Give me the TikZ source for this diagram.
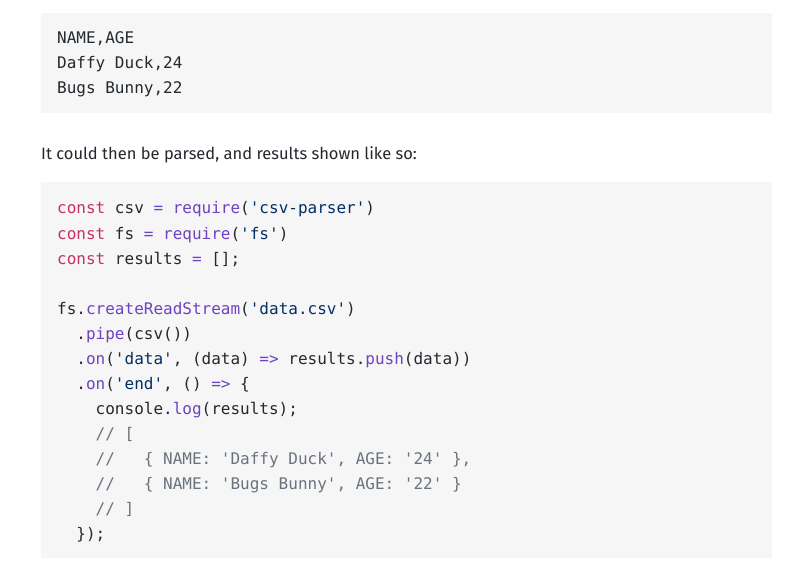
\documentclass[tikz,border=0pt]{standalone}
\usepackage{fontspec}
\setmainfont{Fira Sans}
\setmonofont{DejaVu Sans Mono}
\definecolor{boxgray}{HTML}{F6F6F7}
\definecolor{codetext}{HTML}{24292E}
\definecolor{kwred}{HTML}{C4335D}
\definecolor{fnpurple}{HTML}{6F42C1}
\definecolor{strblue}{HTML}{032F62}
\definecolor{cmgray}{HTML}{6A737D}
\newcommand{\kw}[1]{\textcolor{kwred}{#1}}
\newcommand{\fn}[1]{\textcolor{fnpurple}{#1}}
\newcommand{\str}[1]{\textcolor{strblue}{#1}}
\newcommand{\cm}[1]{\textcolor{cmgray}{#1}}
\tikzset{
  codebox/.style={fill=boxgray, draw=none},
  codeline/.style={anchor=base west, inner sep=0pt, font=\ttfamily\fontsize{16}{20}\selectfont, text=codetext},
  bodytext/.style={anchor=base west, inner sep=0pt, font=\fontsize{16.5}{20}\selectfont, text=codetext}
}
\begin{document}
\begin{tikzpicture}[x=1pt,y=-1pt]
  \useasboundingbox[fill=white] (0,0) rectangle (792,572);
  % data file
  \fill[codebox] (41,13) rectangle (772,113);
  \node[codeline] (csv1) at (57,44) {NAME,AGE};
  \node[codeline] (csv2) at (57,69) {Daffy Duck,24};
  \node[codeline] (csv3) at (57,94) {Bugs Bunny,22};
  % text
  \node[bodytext] (intro) at (41,160) {It could then be parsed, and results shown like so:};
  % script
  \fill[codebox] (41,182) rectangle (772,558);
  \node[codeline] (l1) at (57,214) {\kw{const} csv \fn{=} \fn{require}(\str{'csv-parser'})};
  \node[codeline] (l2) at (57,239) {\kw{const} fs \fn{=} \fn{require}(\str{'fs'})};
  \node[codeline] (l3) at (57,264) {\kw{const} results \fn{=} [];};
  \node[codeline] (l5) at (57,314) {fs.\fn{createReadStream}(\str{'data.csv'})};
  \node[codeline] (l6) at (57,339) {\ \ .\fn{pipe}(csv())};
  \node[codeline] (l7) at (57,364) {\ \ .\fn{on}(\str{'data'}, (data) \fn{=>} results.\fn{push}(data))};
  \node[codeline] (l8) at (57,389) {\ \ .\fn{on}(\str{'end'}, () \fn{=>} \{};
  \node[codeline] (l9) at (57,414) {\ \ \ \ console.\fn{log}(results);};
  \node[codeline] (l10) at (57,439) {\ \ \ \ \cm{// [}};
  \node[codeline] (l11) at (57,464) {\ \ \ \ \cm{//\ \ \ \{ NAME: 'Daffy Duck', AGE: '24' \},}};
  \node[codeline] (l12) at (57,489) {\ \ \ \ \cm{//\ \ \ \{ NAME: 'Bugs Bunny', AGE: '22' \}}};
  \node[codeline] (l13) at (57,514) {\ \ \ \ \cm{// ]}};
  \node[codeline] (l14) at (57,539) {\ \ \});};
\end{tikzpicture}
\end{document}
